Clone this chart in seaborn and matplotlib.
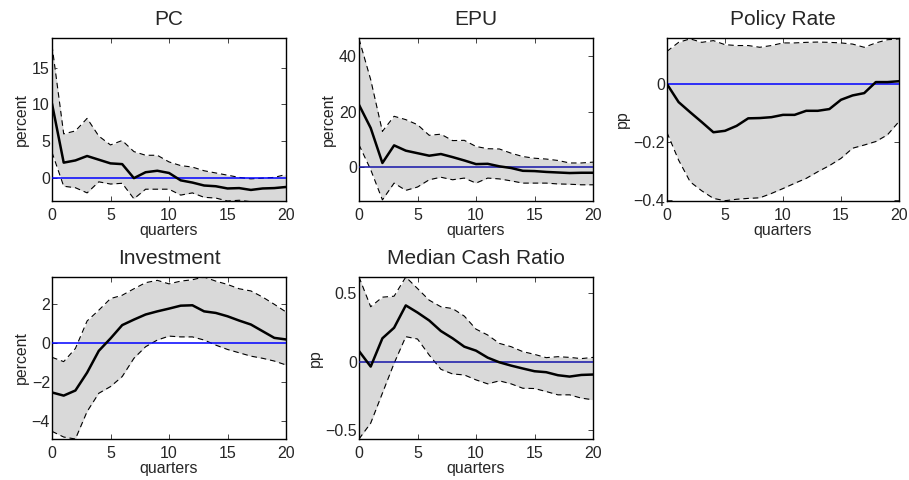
import numpy as np
import pandas as pd
import matplotlib
matplotlib.use("Agg")
import matplotlib.pyplot as plt
import seaborn as sns
from matplotlib.ticker import FuncFormatter

quarters = list(range(21))

pc_med = [10.1, 2.1, 2.4, 3.0, 2.5, 2.0, 1.9, 0.0, 0.8, 1.0, 0.7, -0.3, -0.6, -1.0, -1.1, -1.4, -1.35, -1.6, -1.4, -1.35, -1.2]
pc_up = [18.0, 6.0, 6.4, 8.1, 5.7, 4.5, 5.1, 3.6, 3.1, 3.1, 2.2, 1.7, 1.5, 1.0, 0.7, 0.4, 0.1, -0.1, 0.0, 0.1, 0.5]
pc_lo = [3.5, -1.1, -1.3, -2.0, -0.5, -0.8, -0.7, -2.8, -1.5, -1.5, -1.5, -2.3, -2.0, -2.6, -2.7, -3.1, -3.0, -3.2, -3.2, -3.3, -3.3]

epu_med = [22.4, 14.1, 1.6, 7.9, 6.0, 5.1, 4.2, 4.8, 3.7, 2.5, 1.2, 1.3, 0.4, -0.2, -1.2, -1.3, -1.6, -1.8, -2.0, -1.9, -1.9]
epu_up = [46.0, 31.4, 12.9, 18.3, 17.1, 15.3, 11.5, 11.9, 9.6, 9.7, 7.5, 6.7, 6.6, 5.1, 3.9, 3.3, 3.0, 2.5, 1.6, 1.6, 1.9]
epu_lo = [8.1, -0.8, -11.6, -5.6, -8.2, -7.0, -4.4, -3.5, -4.4, -3.8, -5.6, -3.8, -4.1, -4.8, -5.6, -5.6, -5.6, -5.9, -6.0, -6.2, -6.2]

pr_med = [0.0, -0.062, -0.097, -0.131, -0.166, -0.161, -0.144, -0.118, -0.117, -0.114, -0.106, -0.106, -0.092, -0.092, -0.086, -0.054, -0.039, -0.031, 0.007, 0.007, 0.010]
pr_up = [0.113, 0.144, 0.156, 0.144, 0.150, 0.136, 0.133, 0.133, 0.127, 0.133, 0.142, 0.142, 0.144, 0.145, 0.144, 0.142, 0.138, 0.127, 0.142, 0.153, 0.156]
pr_lo = [-0.167, -0.262, -0.337, -0.368, -0.394, -0.402, -0.397, -0.394, -0.392, -0.377, -0.360, -0.342, -0.325, -0.302, -0.281, -0.256, -0.221, -0.210, -0.198, -0.175, -0.129]

inv_med = [-2.53, -2.69, -2.43, -1.52, -0.41, 0.22, 0.90, 1.18, 1.44, 1.60, 1.74, 1.89, 1.91, 1.60, 1.52, 1.35, 1.13, 0.93, 0.59, 0.25, 0.17]
inv_up = [-0.74, -0.96, -0.29, 1.11, 1.66, 2.25, 2.42, 2.75, 3.06, 3.18, 3.00, 3.14, 3.21, 3.35, 3.14, 2.97, 2.75, 2.64, 2.33, 1.96, 1.57]
inv_lo = [-4.51, -4.80, -4.90, -3.50, -2.57, -2.23, -1.72, -0.79, -0.20, 0.14, 0.34, 0.30, 0.30, 0.14, -0.12, -0.34, -0.51, -0.68, -0.79, -0.93, -1.13]

cash_med = [0.077, -0.036, 0.17, 0.247, 0.41, 0.358, 0.30, 0.223, 0.17, 0.109, 0.08, 0.029, -0.005, -0.029, -0.05, -0.07, -0.077, -0.099, -0.109, -0.097, -0.094]
cash_up = [0.617, 0.40, 0.47, 0.477, 0.617, 0.533, 0.448, 0.40, 0.387, 0.332, 0.237, 0.194, 0.133, 0.109, 0.073, 0.053, 0.029, 0.036, 0.031, 0.022, 0.031]
cash_lo = [-0.564, -0.448, -0.23, -0.012, 0.182, 0.165, 0.048, -0.056, -0.09, -0.097, -0.133, -0.162, -0.14, -0.162, -0.194, -0.196, -0.218, -0.242, -0.242, -0.266, -0.278]

titles = ["PC", "EPU", "Policy Rate", "Investment", "Median Cash Ratio"]
ylabels = ["percent", "percent", "pp", "percent", "pp"]
ylims = [(-3.1, 19.0), (-12.0, 46.3), (-0.403, 0.159), (-4.9, 3.35), (-0.564, 0.617)]
yticks = [[0, 5, 10, 15], [0, 20, 40], [-0.4, -0.2, 0], [-4, -2, 0, 2], [-0.5, 0, 0.5]]
zero_colors = ["#0000ff", "#1414a8", "#0000ff", "#0000ff", "#1414a8"]
series = [(pc_med, pc_up, pc_lo), (epu_med, epu_up, epu_lo), (pr_med, pr_up, pr_lo),
          (inv_med, inv_up, inv_lo), (cash_med, cash_up, cash_lo)]

sns.set_style("ticks")
plt.rcParams["font.family"] = ["Liberation Sans", "DejaVu Sans"]
plt.rcParams["axes.unicode_minus"] = True

fig = plt.figure(figsize=(9.09, 4.8), dpi=100)
W = 909.0
H = 480.0
boxes = [(52, 38, 286, 201), (359, 38, 593, 201), (667, 38, 899, 201),
         (52, 277, 286, 439), (359, 277, 593, 439)]

fmt = FuncFormatter(lambda v, p: ("%g" % v).replace("-", "\u2212"))

for i, (x0, y0, x1, y1) in enumerate(boxes):
    ax = fig.add_axes([x0 / W, 1 - y1 / H, (x1 - x0) / W, (y1 - y0) / H])
    med, up, lo = series[i]
    df = pd.DataFrame({"q": quarters, "med": med, "up": up, "lo": lo})
    ax.fill_between(df["q"], df["lo"], df["up"], color="#d9d9d9", lw=0, zorder=1)
    sns.lineplot(data=df, x="q", y="up", ax=ax, color="black", lw=0.8, linestyle=(0, (5, 3.5)), zorder=2)
    sns.lineplot(data=df, x="q", y="lo", ax=ax, color="black", lw=0.8, linestyle=(0, (5, 3.5)), zorder=2)
    ax.axhline(0, color=zero_colors[i], lw=1.1, zorder=3)
    sns.lineplot(data=df, x="q", y="med", ax=ax, color="black", lw=1.8, zorder=4)
    ax.set_xlim(0, 20)
    ax.set_ylim(*ylims[i])
    ax.set_xticks([0, 5, 10, 15, 20])
    ax.set_yticks(yticks[i])
    ax.yaxis.set_major_formatter(fmt)
    ax.xaxis.set_major_formatter(fmt)
    ax.set_title(titles[i], fontsize=15, pad=9.5)
    ax.set_xlabel("quarters", fontsize=11.4, labelpad=0)
    ax.set_ylabel(ylabels[i], fontsize=11.4, labelpad=2)
    ax.tick_params(direction="in", top=True, right=True, length=3.5, width=0.6, labelsize=11.5)
    ax.tick_params(axis="x", pad=5)
    ax.tick_params(axis="y", pad=1.5)
    for s in ax.spines.values():
        s.set_visible(True)
        s.set_linewidth(1.0)
        s.set_color("black")

fig.savefig("out.png", dpi=100)
